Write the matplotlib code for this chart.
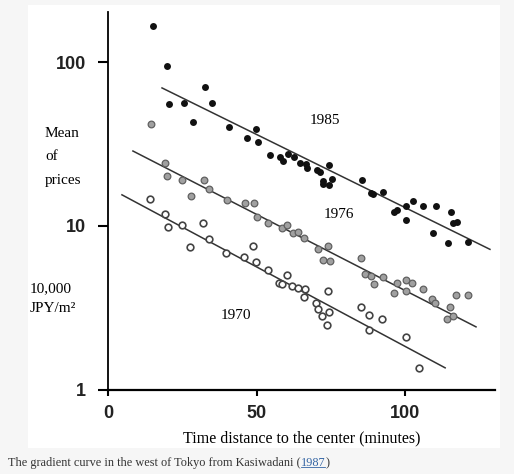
import matplotlib
matplotlib.use("Agg")
import matplotlib.pyplot as plt
from matplotlib.patches import Rectangle

# land price gradient west of Tokyo (Kasiwadani 1987)
# x = time distance to the center (minutes), y = mean price (10,000 JPY/m2)

x_1985 = [15.1, 19.9, 20.6, 25.6, 32.7, 35.0, 28.4, 40.6, 49.7, 46.6, 50.4, 54.5,
          57.9, 58.8, 60.7, 62.6, 64.6, 66.6, 66.9, 70.2, 71.4, 74.5, 72.3, 72.5,
          74.5, 75.3, 85.4, 88.5, 89.3, 92.7, 96.3, 97.2, 100.3, 102.6, 100.3,
          106.2, 110.4, 115.4, 116.3, 117.4, 109.3, 114.6, 121.3]
y_1985 = [166.7, 95.3, 55.9, 56.4, 70.6, 56.6, 43.4, 40.4, 39.3, 34.5, 32.7, 27.0,
          26.5, 24.9, 27.4, 26.5, 24.2, 23.9, 22.7, 22.0, 21.5, 23.6, 18.9, 18.0,
          17.8, 19.3, 19.1, 16.0, 15.6, 16.1, 12.2, 12.5, 13.3, 14.2, 10.9,
          13.3, 13.3, 12.1, 10.4, 10.6, 9.0, 7.9, 8.0]

x_1976 = [14.5, 19.1, 19.8, 24.9, 32.2, 34.0, 27.8, 39.9, 46.1, 49.0, 50.0, 53.8,
          58.4, 60.1, 62.4, 64.0, 66.1, 70.8, 74.1, 72.5, 74.7, 85.1, 86.5, 88.5,
          89.5, 92.7, 96.1, 97.2, 100.2, 102.3, 100.2, 106.2, 109.0, 110.1, 115.2,
          117.2, 121.3, 114.1, 116.3]
y_1976 = [41.8, 24.2, 20.3, 19.0, 19.2, 16.8, 15.3, 14.4, 13.9, 13.9, 11.4, 10.5,
          9.7, 10.1, 9.1, 9.2, 8.4, 7.2, 7.5, 6.2, 6.1, 6.4, 5.1, 4.95,
          4.4, 4.9, 3.9, 4.5, 4.7, 4.5, 4.0, 4.1, 3.6, 3.4, 3.2,
          3.8, 3.8, 2.7, 2.8]

x_1970 = [14.1, 19.1, 20.0, 24.8, 31.8, 34.0, 27.6, 39.7, 45.7, 48.9, 49.8, 53.9,
          60.1, 57.5, 58.4, 61.8, 64.0, 66.3, 66.0, 70.0, 74.0, 70.8, 74.5, 71.9,
          73.8, 85.1, 88.0, 92.1, 88.0, 100.3, 104.8]
y_1970 = [14.6, 11.8, 9.9, 10.1, 10.4, 8.3, 7.4, 6.8, 6.5, 7.5, 6.0, 5.4,
          5.0, 4.5, 4.4, 4.3, 4.2, 4.1, 3.7, 3.4, 4.0, 3.1, 3.0, 2.8,
          2.5, 3.2, 2.85, 2.7, 2.3, 2.1, 1.35]

# fitted lines (end points)
line_1985_x = [18.1, 128.6]
line_1985_y = [69.7, 7.2]
line_1976_x = [8.3, 123.9]
line_1976_y = [28.7, 2.42]
line_1970_x = [4.6, 113.5]
line_1970_y = [15.5, 1.36]

xticks = [0, 50, 100]
yticks = [1, 10, 100]
ytick_labels = ["1", "10", "100"]

serif = "Liberation Serif"

fig = plt.figure(figsize=(5.14, 4.74), dpi=100)
fig.patch.set_facecolor("#f6f6f6")
bg = Rectangle((28 / 514, 1 - 448 / 474), 472 / 514, 443 / 474,
               transform=fig.transFigure, facecolor="white", edgecolor="none", zorder=-5)
fig.add_artist(bg)

ax = fig.add_axes([108.3 / 514, 1 - 389.7 / 474, (495 - 108.3) / 514, (389.7 - 12) / 474])
ax.set_facecolor("none")

ax.plot(line_1985_x, line_1985_y, color="#333333", lw=1.1)
ax.plot(line_1976_x, line_1976_y, color="#333333", lw=1.1)
ax.plot(line_1970_x, line_1970_y, color="#333333", lw=1.1)

ax.plot(x_1985, y_1985, "o", color="#111111", markersize=5, markeredgewidth=0)
ax.plot(x_1976, y_1976, "o", markerfacecolor="#a0a0a0", markeredgecolor="#606060",
        markersize=4.8, markeredgewidth=0.9)
ax.plot(x_1970, y_1970, "o", markerfacecolor="white", markeredgecolor="#444444",
        markersize=4.8, markeredgewidth=1.2)

ax.set_yscale("log")
ax.set_xlim(0, 130.3)
ax.set_ylim(1, 10 ** 2.307)
ax.set_xticks(xticks)
ax.set_xticklabels([str(t) for t in xticks])
ax.set_yticks(yticks)
ax.set_yticklabels(ytick_labels)
ax.minorticks_off()

for side in ["top", "right"]:
    ax.spines[side].set_visible(False)
ax.spines["left"].set_linewidth(1.3)
ax.spines["bottom"].set_linewidth(1.6)

ax.tick_params(axis="x", length=4, width=1.5, pad=7)
ax.tick_params(axis="y", length=7, width=1.5, pad=9)
for lab in ax.get_xticklabels() + ax.get_yticklabels():
    lab.set_fontfamily("Liberation Sans")
    lab.set_fontweight("bold")
    lab.set_fontsize(13)
    lab.set_color("#222222")

ax.set_xlabel("Time distance to the center (minutes)", fontfamily=serif,
              fontsize=11.5, labelpad=6)

# year labels
ax.text(73, 43.8, "1985", fontfamily=serif, fontsize=11, ha="center", va="center")
ax.text(77.8, 11.7, "1976", fontfamily=serif, fontsize=11, ha="center", va="center")
ax.text(43, 2.82, "1970", fontfamily=serif, fontsize=11, ha="center", va="center")

fig.text(45 / 514, 1 - 127 / 474, "Mean\nof\nprices", fontfamily=serif,
         fontsize=11, ha="left", va="top", linespacing=2.05, multialignment="left")
fig.text(30 / 514, 1 - 282 / 474, "10,000\nJPY/m²", fontfamily=serif,
         fontsize=11, ha="left", va="top", linespacing=1.75, multialignment="left")

# caption
cap = fig.text(8 / 514, 1 - 463 / 474, "The gradient curve in the west of Tokyo from Kasiwadani (",
               fontfamily=serif, fontsize=8.8, color="#333333", va="center")
yr = fig.text(0, 0, "1987", fontfamily=serif, fontsize=8.8, color="#3465a4")
fig.canvas.draw()
bb = cap.get_window_extent()
yr.set_position((bb.x1 / 514, bb.y0 / 474))
yr.set_verticalalignment("bottom")
fig.canvas.draw()
bb2 = yr.get_window_extent()
fig.add_artist(plt.Line2D([bb2.x0 / 514, bb2.x1 / 514], [(bb2.y0 + 2) / 474] * 2,
                          color="#3465a4", lw=0.6))
fig.text(bb2.x1 / 514, bb.y0 / 474, ")", fontfamily=serif, fontsize=8.8,
         color="#333333", va="bottom")

fig.savefig("out.png", dpi=100, facecolor=fig.get_facecolor())
